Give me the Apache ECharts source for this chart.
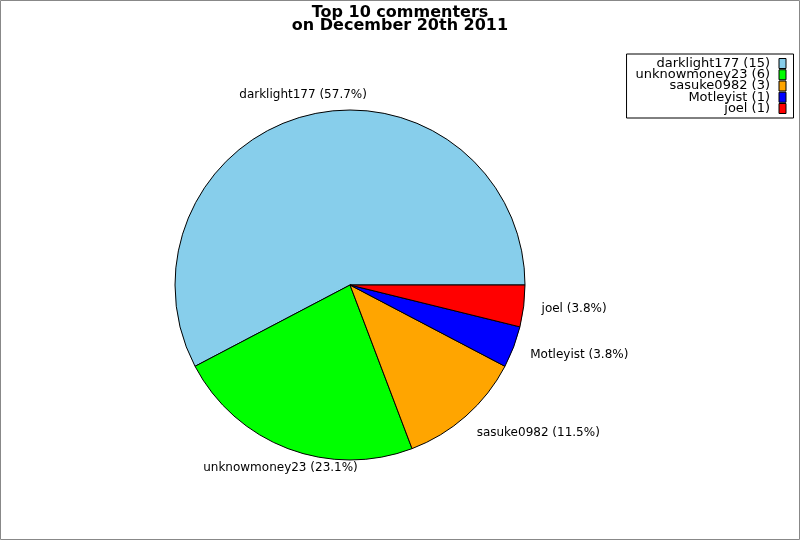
<!DOCTYPE html>
<html>
<head>
<meta charset="utf-8">
<script src="https://cdn.jsdelivr.net/npm/echarts@6/dist/echarts.min.js"></script>
<style>html,body{margin:0;padding:0;background:#fff}#c{width:800px;height:540px}</style>
</head>
<body>
<div id="c"></div>
<script>
const names = ['darklight177', 'unknowmoney23', 'sasuke0982', 'Motleyist', 'joel'];
const counts = [15, 6, 3, 1, 1];
const percents = ['57.7', '23.1', '11.5', '3.8', '3.8'];
const colors = ['#87ceeb', '#00ff00', '#ffa500', '#0000ff', '#ff0000'];

const total = counts.reduce((a, b) => a + b, 0);
// labels of slices on the right side are left-aligned, others centred
let acc = 0;
const rightSide = counts.map(v => {
  const mid = (acc + v / 2) / total * 2 * Math.PI; acc += v;
  return Math.cos(mid) > 0.5;
});
const labelText = i => names[i] + ' (' + percents[i] + '%)';

const chart = echarts.init(document.getElementById('c'));
const font = 'DejaVu Sans';
chart.setOption({
  animation: false,
  backgroundColor: '#fff',
  title: {
    text: 'Top 10 commenters\non December 20th 2011',
    left: 'center', top: 1,
    textStyle: { fontFamily: font, fontSize: 16, fontWeight: 'bold', color: '#000', lineHeight: 13 }
  },
  graphic: [{
    type: 'rect', shape: { x: 0.5, y: 0.5, width: 799, height: 539 },
    style: { fill: 'none', stroke: '#888', lineWidth: 1 }, silent: true
  }],
  legend: {
    orient: 'vertical', right: 6.5, top: 54, align: 'right',
    selectedMode: false,
    data: names,
    itemWidth: 7, itemHeight: 10, itemGap: -1.75,
    icon: 'rect',
    padding: [3, 7, 3, 9],
    borderColor: '#000', borderWidth: 1, backgroundColor: '#fff', borderRadius: 0,
    formatter: function (n) { return n + ' (' + counts[names.indexOf(n)] + ')'; },
    textStyle: { fontFamily: font, fontSize: 13, color: '#000', padding: [0, 4, 0, 0] },
    itemStyle: { borderColor: '#000', borderWidth: 1 }
  },
  series: [{
    type: 'pie', center: [350, 285], radius: 175,
    startAngle: 0, clockwise: false, silent: true, avoidLabelOverlap: false,
    labelLine: { show: false, length: 22, length2: 0 },
    label: { show: false, position: 'outside', fontFamily: font, fontSize: 12, color: '#000',
      distanceToLabelLine: -4, formatter: p => labelText(p.dataIndex) },
    itemStyle: { borderColor: '#000', borderWidth: 1 },
    data: names.map((n, i) => ({ name: n, value: counts[i], itemStyle: { color: colors[i] },
      label: { show: rightSide[i] } }))
  }, {
    type: 'pie', center: [350, 285], radius: [177, 209],
    startAngle: 0, clockwise: false, silent: true, avoidLabelOverlap: false,
    itemStyle: { color: 'rgba(0,0,0,0)' },
    labelLine: { show: false },
    label: { show: true, position: 'inside', rotate: 0, fontFamily: font, fontSize: 12, color: '#000',
      formatter: p => labelText(p.dataIndex) },
    data: names.map((n, i) => ({ name: 'lbl_' + n, value: counts[i], label: { show: !rightSide[i] } }))
  }]
});
</script>
</body>
</html>
